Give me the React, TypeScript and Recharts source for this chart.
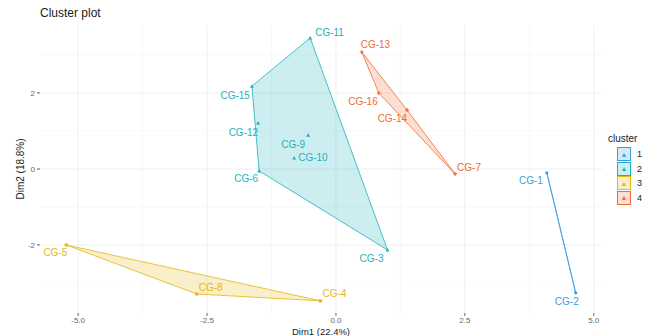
import React from 'react';
import { ScatterChart, Scatter, XAxis, YAxis, CartesianGrid, ReferenceLine, Label } from 'recharts';

const cluster1 = [
  { name: 'CG-1', x: 4.09, y: -0.1 },
  { name: 'CG-2', x: 4.65, y: -3.26 },
];
const cluster2 = [
  { name: 'CG-3', x: 1.0, y: -2.13 },
  { name: 'CG-6', x: -1.49, y: -0.05 },
  { name: 'CG-9', x: -0.54, y: 0.89 },
  { name: 'CG-10', x: -0.81, y: 0.29 },
  { name: 'CG-11', x: -0.5, y: 3.45 },
  { name: 'CG-12', x: -1.51, y: 1.21 },
  { name: 'CG-15', x: -1.63, y: 2.18 },
];
const cluster3 = [
  { name: 'CG-4', x: -0.3, y: -3.47 },
  { name: 'CG-5', x: -5.23, y: -2.0 },
  { name: 'CG-8', x: -2.7, y: -3.29 },
];
const cluster4 = [
  { name: 'CG-7', x: 2.31, y: -0.13 },
  { name: 'CG-13', x: 0.5, y: 3.08 },
  { name: 'CG-14', x: 1.38, y: 1.55 },
  { name: 'CG-16', x: 0.83, y: 2.0 },
];

// hull vertex order per cluster
const hull1 = ['CG-1', 'CG-2'];
const hull2 = ['CG-15', 'CG-11', 'CG-3', 'CG-6'];
const hull3 = ['CG-5', 'CG-8', 'CG-4'];
const hull4 = ['CG-13', 'CG-14', 'CG-7', 'CG-16'];

const xTicks = [-5, -2.5, 0, 2.5, 5];
const yTicks = [-2, 0, 2];
const xMinor = [-3.75, -1.25, 1.25, 3.75];
const yMinor = [-3, -1, 1, 3];
const clusterLabels = ['1', '2', '3', '4'];

const colors = ['#3a9fdc', '#1db1bc', '#e5b710', '#f26a34'];
const markers = ['circle', 'triangle', 'square', 'plus'];

// label placement: [dx, dy, anchor]
const labelPos: Record<string, [number, number, string]> = {
  'CG-1': [-4, 8, 'end'],
  'CG-2': [3, 9, 'end'],
  'CG-3': [-4, 9, 'end'],
  'CG-4': [2, -7, 'start'],
  'CG-5': [1, 8, 'end'],
  'CG-6': [-1, 8, 'end'],
  'CG-7': [2, -6, 'start'],
  'CG-8': [2, -7, 'start'],
  'CG-9': [-3, 9, 'end'],
  'CG-10': [4, 0, 'start'],
  'CG-11': [5, -5, 'start'],
  'CG-12': [0, 9, 'end'],
  'CG-13': [-1, -7, 'start'],
  'CG-14': [0, 8, 'end'],
  'CG-15': [-2, 9, 'end'],
  'CG-16': [-1, 8, 'end'],
};

const pick = (pts: { name: string; x: number; y: number }[], order: string[]) =>
  order.map((n) => pts.find((p) => p.name === n)!);

const hullLine = (color: string) => (props: any) => (
  <polygon
    points={props.points.map((p: any) => `${p.x},${p.y}`).join(' ')}
    fill={color}
    fillOpacity={0.22}
    stroke={color}
    strokeWidth={1}
    strokeOpacity={0.8}
  />
);

const pointShape = (i: number) => (props: any) => {
  const { cx, cy, payload } = props;
  const c = colors[i];
  const [dx, dy, anchor] = labelPos[payload.name];
  let m;
  if (markers[i] === 'circle') m = <circle cx={cx} cy={cy} r={1.6} fill={c} />;
  else if (markers[i] === 'triangle')
    m = <polygon points={`${cx},${cy - 2} ${cx - 2},${cy + 1.5} ${cx + 2},${cy + 1.5}`} fill={c} />;
  else if (markers[i] === 'square') m = <rect x={cx - 1.6} y={cy - 1.6} width={3.2} height={3.2} fill={c} />;
  else
    m = (
      <path d={`M${cx - 2},${cy}H${cx + 2}M${cx},${cy - 2}V${cy + 2}`} stroke={c} strokeWidth={1.2} />
    );
  return (
    <g>
      {m}
      <text x={cx + dx} y={cy + dy} dy="0.35em" textAnchor={anchor as any} fontSize={10} fill={c}>
        {payload.name}
      </text>
    </g>
  );
};

const clusters = [cluster1, cluster2, cluster3, cluster4];
const hulls = [hull1, hull2, hull3, hull4];

const tickStyle = { fontSize: 8, fill: '#666' };

export default function App() {
  return (
    <div style={{ position: 'absolute', left: 0, top: 0, width: 647, height: 336, background: '#fff', fontFamily: 'Liberation Sans, Arial, sans-serif' }}>
      <div style={{ position: 'absolute', left: 40, top: 6, fontSize: 12, color: '#222' }}>Cluster plot</div>
      <ScatterChart width={647} height={336} margin={{ top: 25, right: 45, bottom: 0, left: 0 }}>
        <CartesianGrid stroke="#ebebeb" strokeWidth={0.8} horizontalValues={yTicks} verticalValues={xTicks} />
        {xMinor.map((v) => (
          <ReferenceLine key={'x' + v} x={v} stroke="#f4f4f4" strokeWidth={0.6} />
        ))}
        {yMinor.map((v) => (
          <ReferenceLine key={'y' + v} y={v} stroke="#f4f4f4" strokeWidth={0.6} />
        ))}
        <XAxis
          type="number"
          dataKey="x"
          domain={[-5.74, 5.16]}
          ticks={xTicks}
          tickFormatter={(v: number) => v.toFixed(1)}
          axisLine={false}
          tickSize={3}
          tickMargin={1}
          tickLine={{ stroke: '#666' }}
          tick={tickStyle}
          height={23}
          allowDataOverflow
        >
          <Label value="Dim1 (22.4%)" position="insideBottom" offset={1} style={{ fontSize: 9.5, fill: '#222' }} />
        </XAxis>
        <YAxis
          type="number"
          dataKey="y"
          domain={[-3.79, 3.79]}
          ticks={yTicks}
          axisLine={false}
          tickSize={3}
          tickLine={{ stroke: '#666' }}
          tick={tickStyle}
          width={40}
          allowDataOverflow
        >
          <Label value="Dim2 (18.8%)" angle={-90} position="insideLeft" offset={20} style={{ fontSize: 10, fill: '#222', textAnchor: 'middle' }} />
        </YAxis>
        {clusters.map((pts, i) => (
          <Scatter
            key={'h' + i}
            data={pick(pts, hulls[i])}
            line={hullLine(colors[i])}
            lineType="joint"
            shape={() => <g />}
            isAnimationActive={false}
          />
        ))}
        {clusters.map((pts, i) => (
          <Scatter key={'p' + i} data={pts} shape={pointShape(i)} isAnimationActive={false} />
        ))}
      </ScatterChart>
      <div style={{ position: 'absolute', left: 608, top: 133, fontSize: 10, color: '#222' }}>
        <div style={{ marginBottom: 3 }}>cluster</div>
        {clusterLabels.map((l, i) => (
          <div key={l} style={{ display: 'flex', alignItems: 'center', height: 14.5 }}>
            <div
              style={{
                width: 12,
                height: 12,
                marginLeft: 9,
                border: `1px solid ${colors[i]}`,
                background: colors[i] + '38',
                display: 'flex',
                alignItems: 'center',
                justifyContent: 'center',
                fontSize: 7,
                color: colors[i],
              }}
            >
              ▲
            </div>
            <span style={{ marginLeft: 6, fontSize: 9 }}>{l}</span>
          </div>
        ))}
      </div>
    </div>
  );
}
